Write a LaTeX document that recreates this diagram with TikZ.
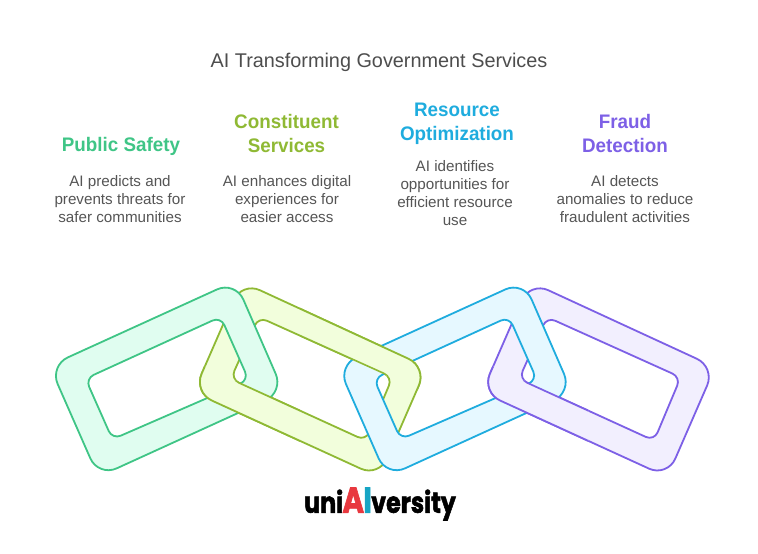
\documentclass[tikz,border=0pt]{standalone}
\usepackage{fontspec}
\setmainfont{Liberation Sans}
\newfontfamily\logofont[BoldFeatures={FakeBold=2}]{Poppins}
\definecolor{gstroke}{HTML}{3FC586}
\definecolor{gfill}{HTML}{E0FDF0}
\definecolor{ystroke}{HTML}{8FB934}
\definecolor{yfill}{HTML}{F2FEDC}
\definecolor{bstroke}{HTML}{1FACDE}
\definecolor{bfill}{HTML}{E6F8FF}
\definecolor{pstroke}{HTML}{7D60E6}
\definecolor{pfill}{HTML}{F2EFFE}
\definecolor{titlegray}{HTML}{4D4D4D}
\definecolor{bodygray}{HTML}{555555}
\definecolor{logored}{HTML}{E8383F}
\definecolor{logocyan}{HTML}{17A5C4}
\newcommand{\risering}[1]{\path[#1,even odd rule]
  [rounded corners=20pt] (49.6,365.7) -- (235.3,281.1) -- (283.7,392.2) -- (98.4,476.7) -- cycle
  [rounded corners=9pt] (85.5,378.6) -- (220.7,316.8) -- (248.7,380) -- (112.4,439.3) -- cycle;}
\newcommand{\fallring}[1]{\path[#1,even odd rule]
  [rounded corners=20pt] (241.7,281.8) -- (426.8,367.2) -- (379,477) -- (193.6,392.2) -- cycle
  [rounded corners=9pt] (258.6,317) -- (392.4,377.3) -- (365.8,440.7) -- (230.7,379) -- cycle;}
\tikzset{
  greenring/.style={draw=gstroke,fill=gfill,line width=1.8pt},
  yellowring/.style={draw=ystroke,fill=yfill,line width=1.8pt},
  bluering/.style={draw=bstroke,fill=bfill,line width=1.8pt},
  purplering/.style={draw=pstroke,fill=pfill,line width=1.8pt},
  head/.style={font=\fontsize{19.6}{24}\selectfont\bfseries,align=center,inner sep=0pt,xscale=0.96},
  body/.style={font=\fontsize{15.2}{18}\selectfont,align=center,inner sep=0pt,text=bodygray},
}
\begin{document}
\begin{tikzpicture}[x=1pt,y=-1pt]
\useasboundingbox (0,0) rectangle (758,554);
% links, interlocked by redrawing clipped parts
\fallring{yellowring}
\risering{greenring}
\begin{scope}
  \clip (150,341.3) -- (300,409.7) -- (300,500) -- (150,500) -- cycle;
  \fallring{yellowring}
\end{scope}
\begin{scope}[xshift=288.3pt]
  \fallring{purplering}
\end{scope}
\begin{scope}[xshift=288.3pt]
  \risering{bluering}
\end{scope}
\begin{scope}
  \clip (300,336.5) -- (440,399.5) -- (440,250) -- (300,250) -- cycle;
  \fallring{yellowring}
\end{scope}
\begin{scope}[xshift=288.3pt]
  \clip (150,341.3) -- (300,409.7) -- (300,500) -- (150,500) -- cycle;
  \fallring{purplering}
\end{scope}
% texts
\node[font=\fontsize{19.85}{24}\selectfont,text=titlegray,inner sep=0pt] (title) at (379,62.5) {AI Transforming Government Services};
\node[head,text=gstroke] (h1) at (121,146) {Public Safety};
\node[head,text=ystroke] (h2) at (286.5,133) {Constituent\\Services};
\node[head,text=bstroke] (h3) at (457,123.5) {Resource\\Optimization};
\node[head,text=pstroke] (h4) at (625,133) {Fraud\\Detection};
\node[body] (b1) at (120,199) {AI predicts and\\prevents threats for\\safer communities};
\node[body] (b2) at (287,199) {AI enhances digital\\experiences for\\easier access};
\node[body] (b3) at (455,193) {AI identifies\\opportunities for\\efficient resource\\use};
\node[body] (b4) at (625,199) {AI detects\\anomalies to reduce\\fraudulent activities};
\node[inner sep=0pt,font=\logofont\bfseries\fontsize{29}{29}\selectfont,xscale=0.82] (logo) at (380,504)
  {uni\kern-1pt{\fontsize{36}{36}\selectfont\textcolor{logored}{A}\kern-1pt\textcolor{logocyan}{I}}\kern-1pt versity};
\end{tikzpicture}
\end{document}
